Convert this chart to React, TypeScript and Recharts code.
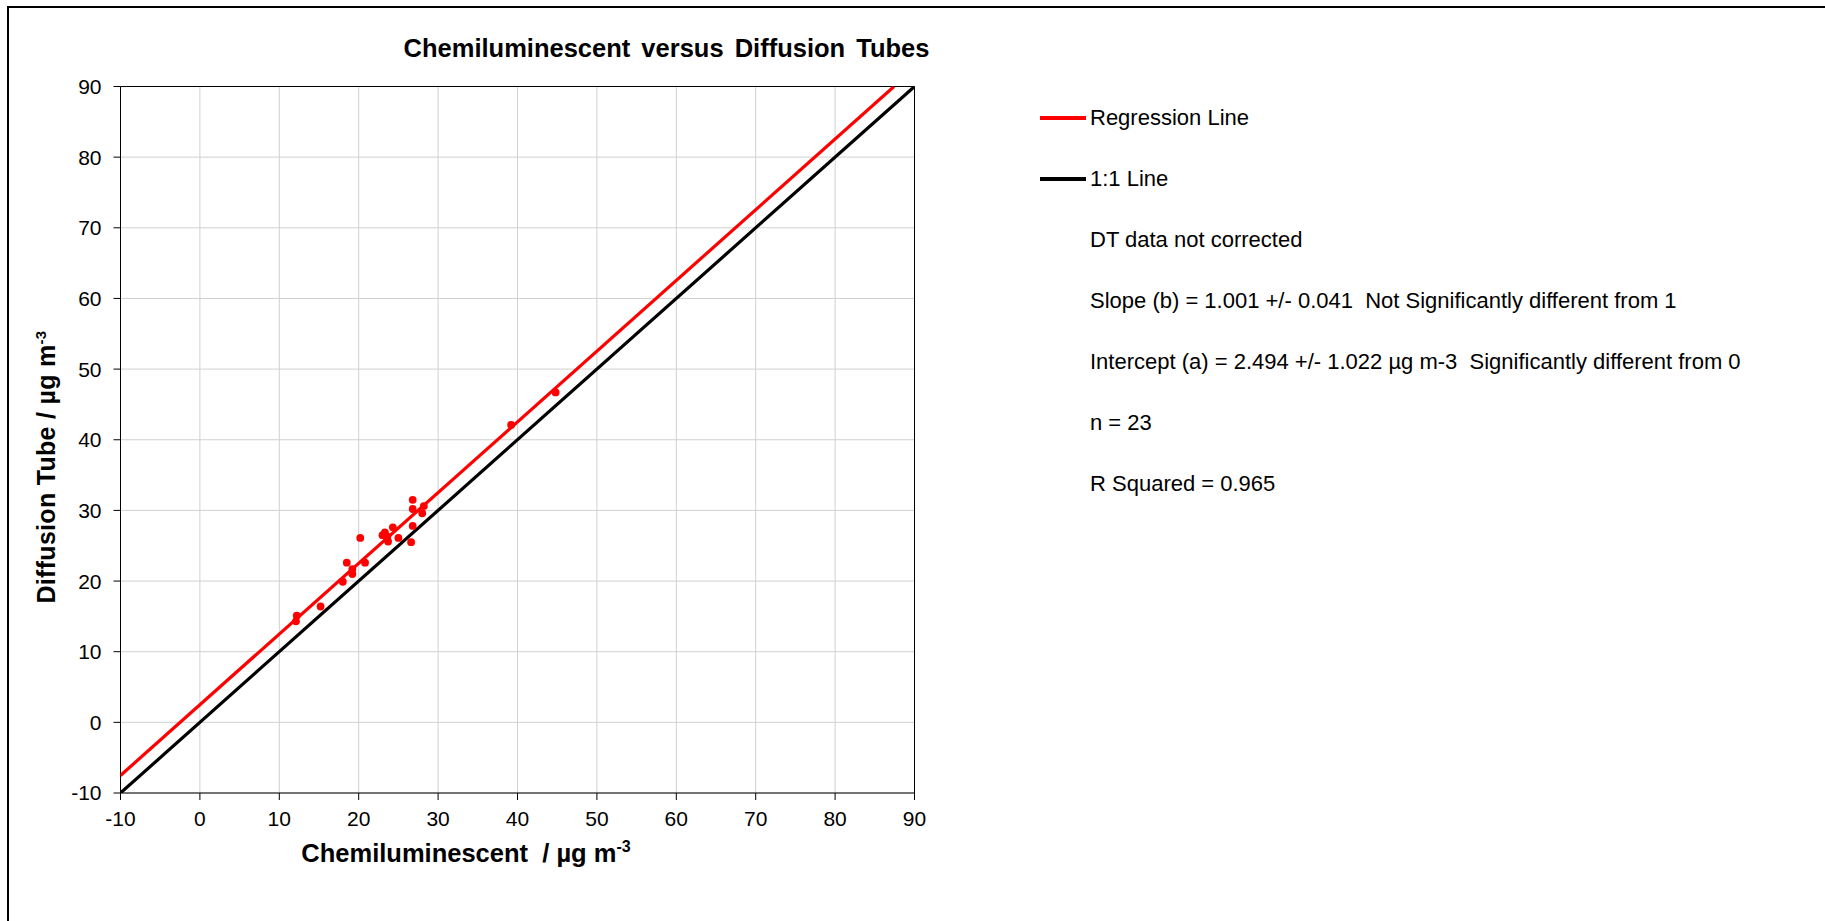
import React from 'react';
import { ScatterChart, Scatter, XAxis, YAxis, CartesianGrid, ReferenceLine, Legend } from 'recharts';

const AXIS_TICKS = [-10, 0, 10, 20, 30, 40, 50, 60, 70, 80, 90];

// co-located pairs, ug m-3 : chemiluminescent analyser (x) vs diffusion tube (y)
const chemi = [12.2, 12.1, 15.2, 18.0, 18.5, 19.2, 19.2, 20.2, 20.8, 23.0, 23.3, 23.7, 23.6, 24.3, 25.0, 26.6, 26.8, 26.8, 26.8, 28.0, 28.2, 39.2, 44.8];
const tube = [15.1, 14.3, 16.4, 19.9, 22.6, 21.7, 21.0, 26.1, 22.6, 26.5, 26.9, 25.6, 26.3, 27.6, 26.1, 25.5, 27.8, 31.5, 30.2, 29.6, 30.6, 42.1, 46.7];

// line end points
const regressionX = [-10, 87.42];
const regressionY = [-7.516, 90];
const oneToOneX = [-10, 90];
const oneToOneY = [-10, 90];

const legendItems = [
  { name: 'Regression Line', color: '#ff0000' },
  { name: '1:1 Line', color: '#000000' },
];
const statsLines = [
  'DT data not corrected',
  'Slope (b) = 1.001 +/- 0.041  Not Significantly different from 1',
  'Intercept (a) = 2.494 +/- 1.022 µg m-3  Significantly different from 0',
  'n = 23',
  'R Squared = 0.965',
];

const toPoints = (xs: number[], ys: number[]) => xs.map((x, i) => ({ x, y: ys[i] }));

const points = toPoints(chemi, tube);
const regression = toPoints(regressionX, regressionY);
const oneToOne = toPoints(oneToOneX, oneToOneY);

const FONT = '"Liberation Sans", Arial, sans-serif';

function YTitle() {
  return (
    <text x={55} y={467} transform="rotate(-90, 55, 467)" textAnchor="middle" fontSize={25} fontWeight="bold" fill="#000" fontFamily={FONT} letterSpacing={0.3}>
      Diffusion Tube / µg m<tspan dy={-9} fontSize={15}>-3</tspan>
    </text>
  );
}

function XTitle() {
  return (
    <text x={466} y={862} textAnchor="middle" fontSize={25.5} fontWeight="bold" fill="#000" fontFamily={FONT} style={{ whiteSpace: 'pre' }}>
      {'Chemiluminescent  / µg m'}<tspan dy={-10} fontSize={16}>-3</tspan>
    </text>
  );
}

function StatsLegend() {
  const row: React.CSSProperties = { height: 61, display: 'flex', alignItems: 'center', whiteSpace: 'pre', fontSize: 22, color: '#000' };
  return (
    <div style={{ fontFamily: FONT }}>
      {legendItems.map((it) => (
        <div key={it.name} style={row}>
          <span style={{ display: 'inline-block', width: 46, height: 4, background: it.color, marginRight: 4 }} />
          <span>{it.name}</span>
        </div>
      ))}
      {statsLines.map((s) => (
        <div key={s} style={{ ...row, paddingLeft: 50 }}>{s}</div>
      ))}
    </div>
  );
}

const NoDot = () => <g />;
const RedDot = (p: { cx?: number; cy?: number }) => <circle cx={p.cx} cy={p.cy} r={3.9} fill="#ff0000" />;

export default function App() {
  const tick = { fill: '#000', fontSize: 21, fontFamily: FONT };
  return (
    <div style={{ position: 'absolute', left: 0, top: 0, width: 1825, height: 921, background: '#fff', fontFamily: FONT, overflow: 'hidden' }}>
      <div style={{ position: 'absolute', left: 7, top: 6, right: 0, bottom: 0, borderTop: '2px solid #000', borderLeft: '2px solid #000' }} />
      <div
        style={{
          position: 'absolute',
          left: 0,
          top: 36,
          width: 1333,
          textAlign: 'center',
          fontSize: 25.5,
          lineHeight: '25px',
          fontWeight: 'bold',
          wordSpacing: 4,
          color: '#000',
        }}
      >
        Chemiluminescent versus Diffusion Tubes
      </div>
      <ScatterChart width={1825} height={921} margin={{ top: 86.5, right: 910.5, bottom: 68, left: 60.5 }} style={{ position: 'absolute', left: 0, top: 0 }}>
        <CartesianGrid stroke="#d0d0d0" strokeWidth={1} />
        <XAxis
          type="number"
          dataKey="x"
          domain={[-10, 90]}
          ticks={AXIS_TICKS}
          interval={0}
          allowDataOverflow
          height={60}
          tick={tick}
          tickSize={7}
          tickMargin={11}
          tickLine={{ stroke: '#000' }}
          axisLine={{ stroke: '#000' }}
          label={<XTitle />}
        />
        <YAxis
          type="number"
          dataKey="y"
          domain={[-10, 90]}
          ticks={AXIS_TICKS}
          interval={0}
          allowDataOverflow
          width={60}
          tick={tick}
          tickSize={7}
          tickMargin={12}
          tickLine={{ stroke: '#000' }}
          axisLine={{ stroke: '#000' }}
          label={<YTitle />}
        />
        <ReferenceLine x={90} stroke="#000" strokeWidth={1} ifOverflow="extendDomain" />
        <ReferenceLine y={90} stroke="#000" strokeWidth={1} ifOverflow="extendDomain" />
        <Scatter name="1:1 Line" data={oneToOne} line={{ stroke: '#000', strokeWidth: 3.2 }} shape={NoDot} fill="#000" legendType="none" isAnimationActive={false} />
        <Scatter name="Regression Line" data={regression} line={{ stroke: '#ff0000', strokeWidth: 3.2 }} shape={NoDot} fill="#ff0000" legendType="none" isAnimationActive={false} />
        <Scatter name="Data" data={points} shape={RedDot} fill="#ff0000" legendType="none" isAnimationActive={false} />
        <Legend
          layout="vertical"
          align="center"
          verticalAlign="middle"
          content={<StatsLegend />}
          wrapperStyle={{ left: 1040, top: 87.5, width: 760, height: 430 }}
        />
      </ScatterChart>
    </div>
  );
}
